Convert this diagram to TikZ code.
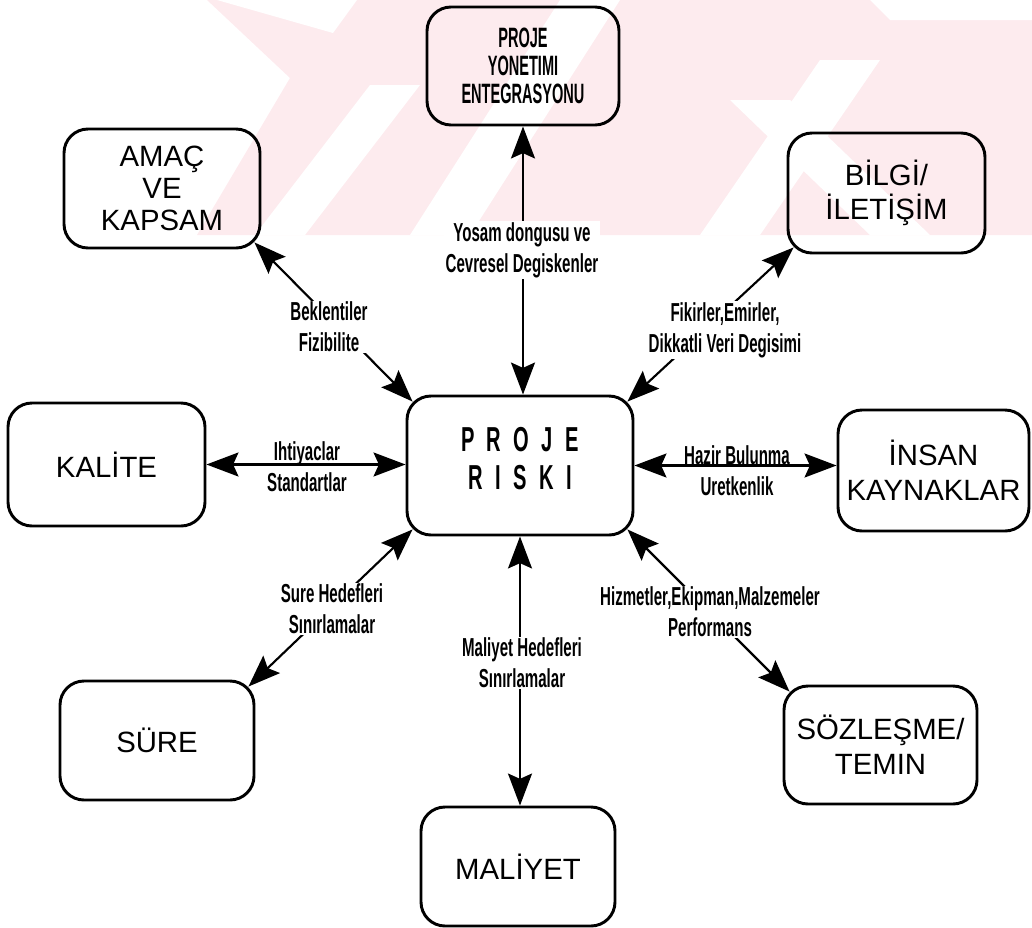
\documentclass[tikz,border=0pt]{standalone}
\usepackage{fontspec}
\setmainfont{Liberation Sans}
\newfontfamily\labelfont[FakeStretch=0.58]{Liberation Sans}
\newfontfamily\headfont[FakeStretch=0.52]{Liberation Sans}
\usetikzlibrary{arrows.meta,calc}
\definecolor{wmpink}{RGB}{253,235,238}
\newcommand\lettergap{\hspace{9.3pt}}

\begin{document}
\begin{tikzpicture}[x=0.75pt,y=-0.75pt,
  box/.style={draw,line width=2.2pt,rounded corners=18pt,inner sep=0pt,align=center,
    font=\fontsize{22}{26}\selectfont},
  lbl/.style={fill=white,inner sep=1pt,align=center,
    font=\labelfont\bfseries\fontsize{19.5}{23}\selectfont},
  lblfree/.style={inner sep=1pt,align=center,
    font=\labelfont\bfseries\fontsize{19.5}{23}\selectfont},
  link/.style={line width=1.6pt,
    arrows={Stealth[length=24pt,width=18pt,inset=4pt]-Stealth[length=24pt,width=18pt,inset=4pt]}}
]
\useasboundingbox (0,0) rectangle (1032,928);

% faint background emblem
\begin{scope}
  \clip (195,0) rectangle (1032,235);
  \fill[wmpink] (207,0) -- (290,78) -- (197,235) -- (1032,235) -- (1032,0) -- cycle;
  \fill[white] (217,0) -- (357,0) -- (333,33) -- cycle;
  \fill[white] (255,235) -- (305,235) -- (420,85) -- (370,85) -- cycle;
  \fill[white] (560,0) -- (620,0) -- (470,235) -- (410,235) -- cycle;
  \fill[white] (730,100) -- (790,100) -- (930,235) -- (870,235) -- cycle;
  \fill[white] (870,0) -- (1032,0) -- (1032,20) -- (890,20) -- cycle;
  \fill[white] (700,235) -- (760,235) -- (880,60) -- (820,60) -- cycle;
\end{scope}

% boxes
\node[box,minimum width=144pt,minimum height=88.5pt,
      font=\headfont\bfseries\fontsize{21}{21}\selectfont] (top) at (523,66)
  {PROJE\\YONETIMI\\ENTEGRASYONU};
\node[box,minimum width=147pt,minimum height=89.25pt,font=\fontsize{22}{24}\selectfont] (amac) at (162,188.5)
  {AMAÇ\\VE\\KAPSAM};
\node[box,minimum width=147.75pt,minimum height=90pt] (bilgi) at (886.5,193)
  {BİLGİ/\\İLETİŞİM};
\node[box,minimum width=169.5pt,minimum height=104.25pt] (risk) at (520,465.5) {};
\node[align=center,inner sep=0pt,font=\labelfont\bfseries\fontsize{26}{28.5}\selectfont] (risktext) at (520,459)
  {P\lettergap R\lettergap O\lettergap J\lettergap E\\R\lettergap I\lettergap S\lettergap K\lettergap I};
\node[box,minimum width=147.75pt,minimum height=92.25pt] (kalite) at (106.5,464.5)
  {KALİTE};
\node[box,minimum width=143.25pt,minimum height=90.75pt] (insan) at (933.5,470.5)
  {İNSAN\\KAYNAKLAR};
\node[box,minimum width=145.5pt,minimum height=89.25pt] (sure) at (157,740.5)
  {SÜRE};
\node[box,minimum width=145.5pt,minimum height=89.25pt] (maliyet) at (518,866.5)
  {MALİYET};
\node[box,minimum width=144.75pt,minimum height=88.5pt] (sozlesme) at (880.5,745)
  {SÖZLEŞME/\\TEMIN};

% connectors
\draw[link] (top.south) -- (top.south |- risk.north);
\draw[link] ($(amac.south east)+(-7,-7)$) -- ($(risk.north west)+(7,7)$);
\draw[link] ($(bilgi.south west)+(7,-7)$) -- ($(risk.north east)+(-7,7)$);
\draw[link] (kalite.east) -- (kalite.east -| risk.west);
\draw[link] (risk.east) -- (risk.east -| insan.west);
\draw[link] ($(risk.south west)+(7,-7)$) -- ($(sure.north east)+(-7,7)$);
\draw[link] (risk.south) -- (risk.south |- maliyet.north);
\draw[link] ($(risk.south east)+(-7,-7)$) -- ($(sozlesme.north west)+(7,7)$);

% connector labels
\node[lbl] (ltop) at (522,250) {Yosam dongusu ve\\Cevresel Degiskenler};
\node[lbl] (lamac) at (329,327) {Beklentiler\\Fizibilite};
\node[lbl] (lbilgi) at (725,330) {Fikirler,Emirler,\\Dikkatli Veri Degisimi};
\node[lblfree] (lkalite) at (307,467) {Ihtiyaclar\\Standartlar};
\node[lblfree] (linsan) at (737,471) {Hazir Bulunma\\Uretkenlik};
\node[lbl] (lsure) at (332,609) {Sure Hedefleri\\Sınırlamalar};
\node[lbl] (lmaliyet) at (522,663) {Maliyet Hedefleri\\Sınırlamalar};
\node[lbl] (lsoz) at (710,612) {Hizmetler,Ekipman,Malzemeler\\Performans};
\end{tikzpicture}
\end{document}
